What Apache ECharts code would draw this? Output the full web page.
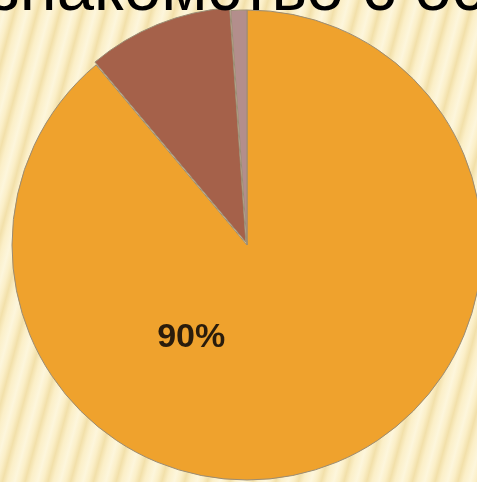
<!DOCTYPE html>
<html>
<head>
<meta charset="utf-8">
<script src="https://cdn.jsdelivr.net/npm/echarts@6/dist/echarts.min.js"></script>
<style>
html,body{margin:0;padding:0;width:477px;height:482px;overflow:hidden;}
body{background:repeating-linear-gradient(105deg,#fbefc8 0px,#fdf6dc 7px,#fbefc8 12px,#f2e0aa 17px,#fbefc8 22px);}
#chart{width:477px;height:482px;}
</style>
</head>
<body>
<div id="chart"></div>
<script>
const titleText = 'знакомство с основами';
const categories = ['A', 'B', 'C'];
const values = [88.9, 10.0, 1.1];
const sliceLabels = ['90%', '', ''];
const colors = ['#EFA22D', '#A5614A', '#B38E8C'];

const chart = echarts.init(document.getElementById('chart'), null, {renderer: 'canvas'});
chart.setOption({
  backgroundColor: 'transparent',
  animation: false,
  graphic: [{
    type: 'text',
    left: -11,
    top: -42,
    z: 100,
    style: {
      text: titleText,
      fontSize: 67,
      fontFamily: 'Liberation Sans, Arial, sans-serif',
      fill: '#000000'
    }
  }],
  series: [{
    type: 'pie',
    center: [247, 245],
    radius: 235,
    startAngle: 90,
    clockwise: true,
    selectedMode: 'multiple',
    selectedOffset: 3,
    itemStyle: {borderColor: '#9a8c74', borderWidth: 1},
    emphasis: {disabled: true},
    labelLine: {show: false},
    data: categories.map((c, i) => ({
      name: c,
      value: values[i],
      selected: i === 1,
      itemStyle: {color: colors[i]},
      label: {
        show: sliceLabels[i] !== '',
        position: 'inside',
        formatter: p => sliceLabels[p.dataIndex],
        fontSize: 34,
        fontWeight: 'bold',
        fontFamily: 'Liberation Sans, Arial, sans-serif',
        color: '#2a1c0c'
      }
    })),
    labelLayout: {dx: -97, dy: -21}
  }]
});
</script>
</body>
</html>
